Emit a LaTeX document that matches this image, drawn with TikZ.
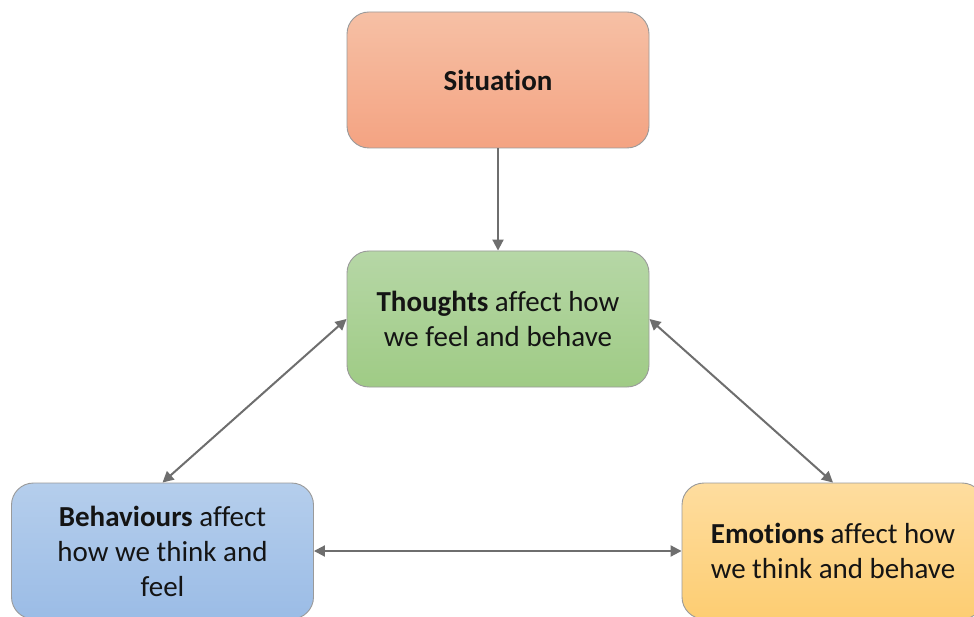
\documentclass[tikz,border=0pt]{standalone}
\usepackage{fontspec}
\setmainfont{Carlito}[Ligatures=NoCommon]
\usetikzlibrary{arrows.meta}
\definecolor{arrowgray}{HTML}{6E6E6E}
\definecolor{edgegray}{HTML}{9A9A9A}
\definecolor{txt}{HTML}{141414}
\definecolor{sitTop}{HTML}{F6C0A5}
\definecolor{sitBot}{HTML}{F4A382}
\definecolor{thTop}{HTML}{B6D7A6}
\definecolor{thBot}{HTML}{9FCB85}
\definecolor{beTop}{HTML}{B5CEEC}
\definecolor{beBot}{HTML}{9BBCE6}
\definecolor{emTop}{HTML}{FEDD9F}
\definecolor{emBot}{HTML}{FDCD72}
\tikzset{
  card/.style={rounded corners=22pt, draw=edgegray, line width=0.9pt,
    minimum width=302pt, minimum height=136pt, inner sep=0pt,
    align=center, text=txt, font=\fontsize{29}{35}\selectfont},
  link/.style={draw=arrowgray, line width=2pt,
    -{Triangle[length=11pt,width=11pt]}},
  duallink/.style={draw=arrowgray, line width=2pt,
    {Triangle[length=11pt,width=11pt]}-{Triangle[length=11pt,width=11pt]}}
}
\begin{document}
\begin{tikzpicture}[x=1pt,y=-1pt]
  \useasboundingbox (0,0) rectangle (974,617);
  \fill[white] (0,0) rectangle (974,617);
  \clip (0,0) rectangle (974,617);

  \node[card, top color=sitTop, bottom color=sitBot] (sit) at (498,80)
    {\textbf{Situation}};
  \node[card, top color=thTop, bottom color=thBot] (th) at (498,319)
    {\textbf{Thoughts} affect how\\we feel and behave};
  \node[card, top color=beTop, bottom color=beBot] (be) at (162.5,551)
    {\textbf{Behaviours} affect\\how we think and\\feel};
  \node[card, top color=emTop, bottom color=emBot] (em) at (833,551)
    {\textbf{Emotions} affect how\\we think and behave};

  \draw[link] (sit.south) -- (th.north);
  \draw[duallink] (th.west) -- (be.north);
  \draw[duallink] (th.east) -- (em.north);
  \draw[duallink] (be.east) -- (em.west);
\end{tikzpicture}
\end{document}
